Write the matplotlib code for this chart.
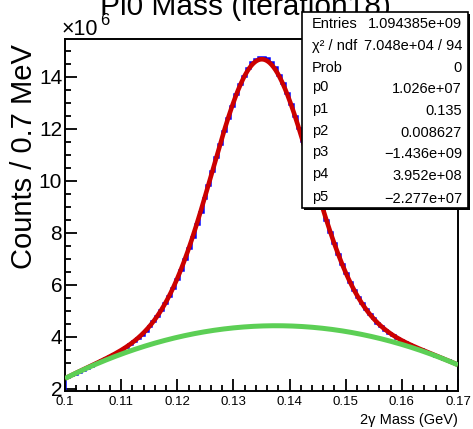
import numpy as np
import matplotlib
matplotlib.use("Agg")
import matplotlib.pyplot as plt
from matplotlib.patches import Rectangle
from matplotlib.ticker import MultipleLocator

plt.rcParams['font.family'] = ['Liberation Sans', 'DejaVu Sans']

# ---- data ----
x_min, x_max = 0.10, 0.17
n_bins = 100
# histogram counts per bin (units of 1e6)
counts = [2.43, 2.51, 2.58, 2.66, 2.73, 2.80, 2.87, 2.95, 3.02, 3.09,
          3.17, 3.25, 3.33, 3.41, 3.50, 3.60, 3.70, 3.82, 3.94, 4.08,
          4.23, 4.40, 4.59, 4.80, 5.03, 5.28, 5.57, 5.88, 6.22, 6.58,
          6.98, 7.40, 7.85, 8.32, 8.81, 9.32, 9.84, 10.37, 10.90, 11.42,
          11.92, 12.40, 12.86, 13.33, 13.70, 14.02, 14.34, 14.55, 14.69, 14.76,
          14.77, 14.70, 14.57, 14.38, 14.07, 13.76, 13.39, 12.94, 12.49, 12.02,
          11.53, 11.02, 10.50, 9.99, 9.47, 8.98, 8.49, 8.03, 7.59, 7.18,
          6.80, 6.44, 6.11, 5.81, 5.54, 5.29, 5.07, 4.87, 4.70, 4.54,
          4.40, 4.27, 4.16, 4.05, 3.96, 3.87, 3.79, 3.72, 3.65, 3.58,
          3.52, 3.45, 3.39, 3.33, 3.27, 3.21, 3.15, 3.09, 3.04, 3.00]

# fit parameters (gaus + pol2), as shown in the stats box
p0, p1, p2, p3, p4, p5 = 1.026e+07, 0.135, 0.008627, -1.436e+09, 3.952e+08, -2.277e+07

stat_labels = ["Entries", "χ² / ndf", "Prob", "p0", "p1", "p2", "p3", "p4", "p5"]
stat_values = ["1.094385e+09", "7.048e+04 / 94", "0", "1.026e+07", "0.135",
               "0.008627", "\u22121.436e+09", "3.952e+08", "\u22122.277e+07"]

x_ticks = [0.10, 0.11, 0.12, 0.13, 0.14, 0.15, 0.16, 0.17]
x_tick_labels = ["0.1", "0.11", "0.12", "0.13", "0.14", "0.15", "0.16", "0.17"]
y_ticks = [2, 4, 6, 8, 10, 12, 14]

# ---- figure ----
W, H = 473, 429
fig = plt.figure(figsize=(W / 100, H / 100), dpi=100)
L, R, T, B = 65, 458, 39, 391
ax = fig.add_axes([L / W, 1 - B / H, (R - L) / W, (B - T) / H])

edges = np.linspace(x_min, x_max, n_bins + 1)
ax.stairs(counts, edges, color='#0000ff', lw=1.8, zorder=2)

xf = np.linspace(x_min, x_max, 600)
bg = (p3 * xf**2 + p4 * xf + p5) / 1e6
sig = p0 * np.exp(-0.5 * ((xf - p1) / p2) ** 2) / 1e6
ax.plot(xf, sig + bg, color='#cc0000', lw=3.3, zorder=3, solid_capstyle='butt')
ax.plot(xf, bg, color='#5ccf55', lw=3.6, zorder=4, solid_capstyle='butt')

ax.set_xlim(x_min, x_max)
ax.set_ylim(1.91, 15.45)
ax.set_xticks(x_ticks)
ax.set_xticklabels(x_tick_labels)
ax.set_yticks(y_ticks)
ax.xaxis.set_minor_locator(MultipleLocator(0.002))
ax.yaxis.set_minor_locator(MultipleLocator(0.5))
ax.tick_params(which='both', direction='in', top=False, right=False, width=1.3)
ax.tick_params(which='major', length=8.6)
ax.tick_params(which='minor', length=4.3)
ax.tick_params(axis='x', labelsize=9.5, pad=3.5)
ax.tick_params(axis='y', labelsize=15, pad=2)
for s in ax.spines.values():
    s.set_linewidth(1.4)

# axis titles
fig.text(24 / W, 1 - 157 / H, "Counts / 0.7 MeV", rotation=90, ha='center', va='center', fontsize=21)
fig.text(R / W, 1 - 424 / H, "2γ Mass (GeV)", ha='right', va='baseline', fontsize=10.5)
fig.text(62 / W, 1 - 35 / H, "×10", ha='left', va='baseline', fontsize=15.5)
fig.text(100 / W, 1 - 25 / H, "6", ha='left', va='baseline', fontsize=12)

# title
fig.text(245 / W, 1 - 15 / H, "Pi0 Mass (iteration18)", ha='center', va='baseline', fontsize=21.5)

# stats box
bx0, by0, bx1, by1 = 302, 12, 468, 208
sh = Rectangle(((bx0 + 2) / W, 1 - (by1 + 2) / H), (bx1 - bx0) / W, (by1 - by0) / H,
               transform=fig.transFigure, facecolor='black', edgecolor='black', lw=0, zorder=9)
fig.add_artist(sh)
box = Rectangle((bx0 / W, 1 - by1 / H), (bx1 - bx0) / W, (by1 - by0) / H,
                transform=fig.transFigure, facecolor='white', edgecolor='black', lw=1.2, zorder=10)
fig.add_artist(box)
baselines = [28, 50, 72, 93, 115, 137, 158, 180, 203]
for i, (lab, val, yb) in enumerate(zip(stat_labels, stat_values, baselines)):
    off = 2 if i >= 3 else 0
    fig.text(312 / W, 1 - (yb - off) / H, lab, ha='left', va='baseline', fontsize=10.5, zorder=11)
    fig.text(462 / W, 1 - yb / H, val, ha='right', va='baseline', fontsize=10.5, zorder=11)

fig.savefig("out.png", dpi=100)
